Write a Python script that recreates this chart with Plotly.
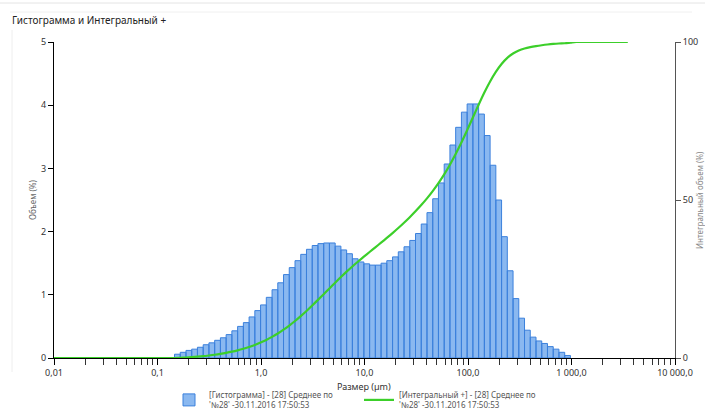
import numpy as np
import plotly.graph_objects as go

# Size classes (µm): Mastersizer style log-spaced class edges 0.01 .. 3500 (101 edges)
edges = np.logspace(-2, np.log10(3500), 101)
first_bin = 21   # first non-empty class

# Histogram, volume % per class (classes 21..89)
hist_values = [0.06, 0.09, 0.12, 0.14, 0.17, 0.21, 0.24, 0.28, 0.32, 0.37,
               0.43, 0.50, 0.56, 0.65, 0.75, 0.84, 0.96, 1.08, 1.19, 1.32,
               1.43, 1.54, 1.64, 1.72, 1.78, 1.81, 1.82, 1.82, 1.77, 1.71,
               1.65, 1.57, 1.52, 1.49, 1.47, 1.47, 1.50, 1.54, 1.60, 1.68,
               1.76, 1.86, 1.97, 2.12, 2.30, 2.52, 2.77, 3.07, 3.37, 3.65,
               3.89, 4.02, 4.02, 3.86, 3.52, 3.05, 2.50, 1.92, 1.38, 0.94,
               0.63, 0.44, 0.33, 0.27, 0.23, 0.18, 0.14, 0.09, 0.04]

# Cumulative (integral) %, at upper class edges 21..90
cumulative = [0.00, 0.06, 0.15, 0.27, 0.41, 0.58, 0.79, 1.03, 1.31, 1.63, 2.00,
              2.43, 2.93, 3.49, 4.14, 4.89, 5.73, 6.69, 7.77, 8.96, 10.28,
              11.71, 13.25, 14.89, 16.61, 18.39, 20.20, 22.02, 23.84, 25.61, 27.32,
              28.97, 30.54, 32.06, 33.55, 35.02, 36.49, 37.99, 39.53, 41.13, 42.81,
              44.57, 46.43, 48.40, 50.52, 52.82, 55.34, 58.11, 61.18, 64.55, 68.20,
              72.09, 76.11, 80.13, 83.99, 87.51, 90.56, 93.06, 94.98, 96.36, 97.30,
              97.93, 98.37, 98.70, 98.97, 99.20, 99.38, 99.52, 99.61, 99.80, 100.0]

x_tickvals = [0.01, 0.1, 1, 10, 100, 1000, 10000]
x_ticktext = ["0,01", "0,1", "1,0", "10,0", "100,0", "1 000,0", "10 000,0"]
y_tickvals = [0, 1, 2, 3, 4, 5]
y2_tickvals = [0, 50, 100]

hist_name = "[Гистограмма] - [28] Среднее по<br>'№28' -30.11.2016 17:50:53"
cum_name = "[Интегральный +] - [28] Среднее по<br>'№28' -30.11.2016 17:50:53"

BAR_FILL = "rgb(138,184,240)"
BAR_EDGE = "#3b80dc"

# Build bar polygons
bx, by = [], []
for i, h in enumerate(hist_values):
    l = edges[first_bin + i]
    r = edges[first_bin + i + 1]
    bx += [l, l, r, r, l, None]
    by += [0, h, h, 0, 0, None]

lx = [edges[0]] + list(edges[first_bin:first_bin + len(cumulative)]) + [edges[-1]]
ly = [0] + cumulative + [100]

fig = go.Figure()
fig.add_trace(go.Scatter(
    x=bx, y=by, mode="lines", fill="toself",
    fillcolor=BAR_FILL, line=dict(color=BAR_EDGE, width=1),
    name=hist_name, hoverinfo="skip", showlegend=False, legendgroup="h",
))
# legend entry with a square swatch
fig.add_trace(go.Bar(
    x=[None], y=[None], name=hist_name, legendgroup="h",
    marker=dict(color=BAR_FILL, line=dict(color=BAR_EDGE, width=1)),
))
fig.add_trace(go.Scatter(
    x=lx, y=ly, mode="lines", yaxis="y2",
    line=dict(color="#3ccf2a", width=2.2, shape="spline", smoothing=0.8),
    name=cum_name, cliponaxis=False,
))

W, H = 705, 413
L, R, T, B = 54, 30, 42, 55
pw, ph = W - L - R, H - T - B

def px(xp):
    return (xp - L) / pw

def py(yp):
    return (H - B - yp) / ph

minor_vals = [m * 10.0 ** e for e in range(-2, 4) for m in range(2, 10)]

fig.update_layout(
    width=W, height=H,
    margin=dict(l=L, r=R, t=T, b=B, autoexpand=False),
    paper_bgcolor="white", plot_bgcolor="white",
    font=dict(family="Noto Sans, Open Sans, sans-serif", size=9, color="#333"),
    title=dict(text="Гистограмма и Интегральный +", xref="container", yref="container",
               x=12 / W, xanchor="left", y=1 - 20 / H, yanchor="middle",
               font=dict(size=10, color="#222")),
    showlegend=True,
    legend=dict(orientation="h", x=px(169), xanchor="left", y=py(383), yanchor="top",
                font=dict(size=8, color="#555"), entrywidth=145, entrywidthmode="pixels",
                bgcolor="rgba(0,0,0,0)", traceorder="normal", tracegroupgap=0),
    xaxis=dict(type="log", range=[-2, 4], showgrid=False, zeroline=False,
               showline=True, linecolor="#000", linewidth=1,
               ticks="outside", ticklen=6, tickcolor="#000",
               tickvals=x_tickvals, ticktext=x_ticktext,
               minor=dict(tickvals=minor_vals, ticks="outside", ticklen=6, tickcolor="#333", showgrid=False),
               layer="below traces", tickfont=dict(size=9, color="#333")),
    yaxis=dict(range=[0, 5], showgrid=False, zeroline=False,
               showline=True, linecolor="#000", linewidth=1,
               ticks="outside", ticklen=5, tickcolor="#000",
               tickvals=y_tickvals, tickfont=dict(size=9, color="#333")),
    yaxis2=dict(range=[0, 100], overlaying="y", side="right", showgrid=False, zeroline=False,
                showline=True, linecolor="#555", linewidth=1,
                ticks="outside", ticklen=5, tickcolor="#555",
                tickvals=y2_tickvals, tickfont=dict(size=9, color="#333")),
)

fig.add_annotation(text="Объем (%)", xref="paper", yref="paper", x=px(32), y=0.5,
                   xanchor="center", yanchor="middle",
                   textangle=-90, showarrow=False, font=dict(size=8, color="#666"))
fig.add_annotation(text="Интегральный объем (%)", xref="paper", yref="paper", x=px(699), y=0.5,
                   xanchor="center", yanchor="middle",
                   textangle=-90, showarrow=False, font=dict(size=8, color="#888"))
fig.add_annotation(text="Размер (µm)", xref="paper", yref="paper", x=px(364), y=py(386),
                   xanchor="center", yanchor="middle",
                   showarrow=False, font=dict(size=9, color="#333"))

# panel frame lines
frame = "#e4e4e4"
fig.add_shape(type="line", xref="paper", yref="paper", x0=px(0), x1=px(705), y0=py(3), y1=py(3),
              line=dict(color=frame, width=1))
fig.add_shape(type="line", xref="paper", yref="paper", x0=px(10), x1=px(692), y0=py(12), y1=py(12),
              line=dict(color="#f0f0f0", width=1))
fig.add_shape(type="line", xref="paper", yref="paper", x0=px(12), x1=px(12), y0=py(30), y1=py(372),
              line=dict(color="#eeeeee", width=1))

fig.write_html("out.html")
